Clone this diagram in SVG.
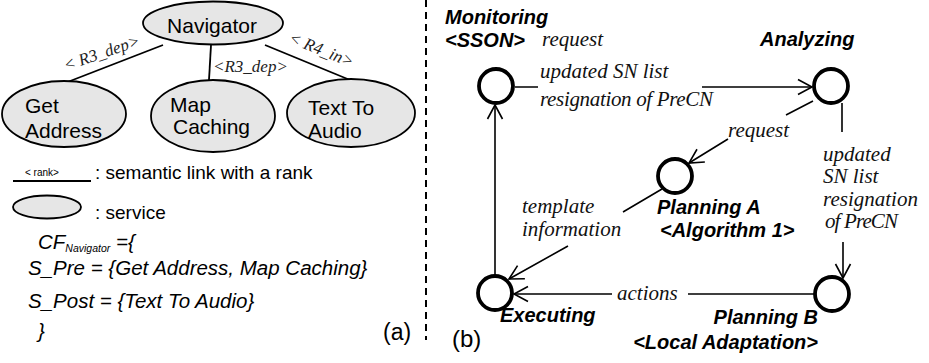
<svg xmlns="http://www.w3.org/2000/svg" width="929" height="363" viewBox="0 0 929 363">
  <style>
    .svc { fill: #e6e6e6; stroke: #000; stroke-width: 1.8; }
    .link { stroke: #000; stroke-width: 1.8; fill: none; }
    .sans { font-family: "Liberation Sans", Arial, sans-serif; fill: #000; }
    .rel { font-family: "Liberation Serif", "Times New Roman", serif; font-style: italic; font-size: 17px; fill: #222; }
    .state { fill: #fff; stroke: #000; stroke-width: 3.8; }
    .flow { stroke: #000; stroke-width: 1.6; fill: none; marker-end: url(#arr); }
    .msg { font-family: "Liberation Serif", "Times New Roman", serif; font-style: italic; font-size: 21px; fill: #111; }
    .lbl { font-family: "Liberation Sans", Arial, sans-serif; font-weight: bold; font-style: italic; font-size: 20px; fill: #000; }
  </style>
  <defs>
    <marker id="arr" markerUnits="userSpaceOnUse" orient="auto" refX="0" refY="0" markerWidth="20" markerHeight="20" viewBox="-16 -10 20 20" overflow="visible">
      <path d="M-14,-7.5 L0,0 L-14,7.5" fill="none" stroke="#000" stroke-width="1.6"/>
    </marker>
  </defs>
  <rect width="929" height="363" fill="#fff"/>

  <!-- (a) service composition -->
  <g id="links-a">
    <line class="link" x1="163" y1="45" x2="65" y2="83"/>
    <line class="link" x1="211" y1="45" x2="209" y2="80"/>
    <line class="link" x1="265" y1="45" x2="350" y2="80"/>
    <text class="rel" transform="translate(66,71) rotate(-19)">&lt; R3_dep&gt;</text>
    <text class="rel" x="213" y="72">&lt;R3_dep&gt;</text>
    <text class="rel" transform="translate(288,42) rotate(22)">&lt; R4_in&gt;</text>
  </g>
  <g id="navigator">
    <ellipse class="svc" cx="213" cy="23" rx="70" ry="21.5"/>
    <text class="sans" x="212" y="33" font-size="21" text-anchor="middle">Navigator</text>
  </g>
  <g id="get-address">
    <ellipse class="svc" cx="64" cy="114" rx="62" ry="33"/>
    <text class="sans" x="25" y="113" font-size="21">Get</text>
    <text class="sans" x="25" y="138" font-size="21">Address</text>
  </g>
  <g id="map-caching">
    <ellipse class="svc" cx="213" cy="116" rx="62" ry="36"/>
    <text class="sans" x="170" y="112" font-size="21">Map</text>
    <text class="sans" x="173" y="134" font-size="21">Caching</text>
  </g>
  <g id="text-to-audio">
    <ellipse class="svc" cx="351" cy="113" rx="64" ry="34"/>
    <text class="sans" x="308" y="115" font-size="21">Text To</text>
    <text class="sans" x="308" y="138" font-size="21">Audio</text>
  </g>

  <!-- legend -->
  <g id="legend">
    <line class="link" x1="13" y1="181" x2="91" y2="181" stroke-width="1.5"/>
    <text class="sans" x="25" y="176" font-size="10">&lt; rank&gt;</text>
    <text class="sans" x="95" y="179" font-size="19">: semantic link with a rank</text>
    <ellipse class="svc" cx="47" cy="207" rx="34" ry="11.5"/>
    <text class="sans" x="95" y="219" font-size="19">: service</text>
  </g>

  <!-- composition formula -->
  <g id="formula" class="sans" font-style="italic" font-size="20.5">
    <text x="38" y="249">CF<tspan font-size="10.5" dy="3">Navigator</tspan><tspan dy="-3"> ={</tspan></text>
    <text x="28" y="275">S_Pre = {Get Address, Map Caching}</text>
    <text x="28" y="308">S_Post = {Text To Audio}</text>
    <text x="38" y="338">}</text>
  </g>
  <text class="sans" x="383" y="340" font-size="23">(a)</text>

  <!-- divider -->
  <line x1="426" y1="0" x2="426" y2="340" stroke="#000" stroke-width="2" stroke-dasharray="7 5"/>

  <!-- (b) adaptation loop -->
  <g id="connectors">
    <path class="flow" d="M515,87 H538 M702,87 H812"/>
    <path class="flow" d="M813,101 L786,115 M728,139 L689,163"/>
    <path class="flow" d="M842,103 V132 M843,242 V278"/>
    <path class="flow" d="M662,189 L623,212 M568,246 L509,279"/>
    <path class="flow" d="M814,294 H688 M612,294 H514"/>
    <path class="flow" d="M495,275 V105"/>
    <text class="msg" x="542" y="46">request</text>
    <text class="msg" x="540" y="78">updated SN list</text>
    <text class="msg" x="540" y="106" textLength="173">resignation of PreCN</text>
    <text class="msg" x="728" y="137">request</text>
    <text class="msg" x="823" y="161">updated</text>
    <text class="msg" x="823" y="183">SN list</text>
    <text class="msg" x="823" y="206">resignation</text>
    <text class="msg" x="825" y="228" textLength="73">of PreCN</text>
    <text class="msg" x="522" y="213">template</text>
    <text class="msg" x="522" y="236">information</text>
    <text class="msg" x="617" y="300">actions</text>
  </g>
  <g id="monitoring">
    <circle class="state" cx="496" cy="86" r="17"/>
    <text class="lbl" x="445" y="24">Monitoring</text>
    <text class="lbl" x="445" y="47">&lt;SSON&gt;</text>
  </g>
  <g id="analyzing">
    <circle class="state" cx="831" cy="86" r="17"/>
    <text class="lbl" x="760" y="46">Analyzing</text>
  </g>
  <g id="planning-a">
    <circle class="state" cx="675" cy="176" r="17"/>
    <text class="lbl" x="657" y="214">Planning A</text>
    <text class="lbl" x="660" y="237">&lt;Algorithm 1&gt;</text>
  </g>
  <g id="planning-b">
    <circle class="state" cx="832" cy="294" r="17"/>
    <text class="lbl" x="818" y="324" text-anchor="end">Planning B</text>
    <text class="lbl" x="818" y="349" text-anchor="end">&lt;Local Adaptation&gt;</text>
  </g>
  <g id="executing">
    <circle class="state" cx="495" cy="293" r="17"/>
    <text class="lbl" x="500" y="322">Executing</text>
  </g>
  <text class="sans" x="452" y="347" font-size="24">(b)</text>
</svg>
